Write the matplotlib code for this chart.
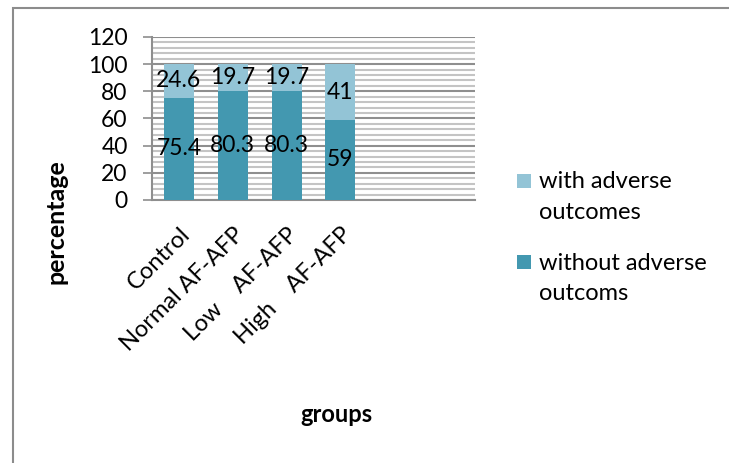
import matplotlib.pyplot as plt
from matplotlib.patches import Rectangle
from matplotlib.ticker import MultipleLocator

groups = ["Control", "Normal AF-AFP", "Low    AF-AFP", "High    AF-AFP", "", ""]
without_adverse = [75.4, 80.3, 80.3, 59]
with_adverse = [24.6, 19.7, 19.7, 41]
legend_labels = [["with adverse", "outcomes"], ["without adverse", "outcoms"]]

dark = "#4398b0"
light = "#93c4d6"

plt.rcParams['font.family'] = ['Lato', 'DejaVu Sans']

fig = plt.figure(figsize=(7.29, 4.63), dpi=100)
ax = fig.add_axes([152 / 729, 1 - 200 / 463, 323 / 729, 163 / 463])

# outer chart frame (right and bottom edges fall outside the image)
fig.patches.append(Rectangle((13 / 729, -0.1), 1.2, 1 - 8 / 463 + 0.1,
                             transform=fig.transFigure, fill=False,
                             edgecolor="#8c8c8c", lw=1.5))

x = list(range(len(without_adverse)))
b1 = ax.bar(x, without_adverse, width=0.56, color=dark, zorder=3)
b2 = ax.bar(x, with_adverse, width=0.56, bottom=without_adverse, color=light, zorder=3)

for i in x:
    ax.text(i, without_adverse[i] / 2, f"{without_adverse[i]:g}", ha="center", va="center",
            fontsize=16.5, zorder=4)
    ax.text(i, without_adverse[i] + with_adverse[i] / 2, f"{with_adverse[i]:g}", ha="center",
            va="center", fontsize=16.5, zorder=4)

ax.set_xlim(-0.5, 5.5)
ax.set_ylim(0, 120)
ax.yaxis.set_major_locator(MultipleLocator(20))
ax.yaxis.set_minor_locator(MultipleLocator(4))
ax.grid(which="minor", axis="y", color="#c4c4c4", lw=1.5, zorder=0)
ax.grid(which="major", axis="y", color="#8e8e8e", lw=1.5, zorder=1)
ax.tick_params(axis="y", which="major", labelsize=16.5, length=6.5, color="#8e8e8e", width=1.2,
               pad=11)
ax.tick_params(axis="y", which="minor", length=0)

ax.set_xticks(range(len(groups)))
ax.set_xticklabels(groups, rotation=45, ha="right", rotation_mode="anchor", fontsize=17)
ax.tick_params(axis="x", length=0, pad=17)

for s in ["top", "right"]:
    ax.spines[s].set_visible(False)
for s in ["left", "bottom"]:
    ax.spines[s].set_color("#8e8e8e")
    ax.spines[s].set_linewidth(1.5)

fig.text(56 / 729, 1 - 222 / 463, "percentage", rotation=90, ha="center", va="center",
         fontsize=18, fontweight="bold")
fig.text(336 / 729, 1 - 414 / 463, "groups", ha="center", va="center",
         fontsize=17, fontweight="bold")

# legend: square beside the first line of each two-line entry
for k, (bars, lines) in enumerate(zip([b2, b1], legend_labels)):
    top = 174 + k * 81
    fig.patches.append(Rectangle((517 / 729, 1 - (top + 14) / 463), 14 / 729, 14 / 463,
                                 transform=fig.transFigure,
                                 facecolor=bars.patches[0].get_facecolor(), edgecolor="none"))
    for j, line in enumerate(lines):
        fig.text(539 / 729, 1 - (top + 8 + 31 * j) / 463, line, ha="left", va="center",
                 fontsize=17)

fig.savefig("out.png", dpi=100)
